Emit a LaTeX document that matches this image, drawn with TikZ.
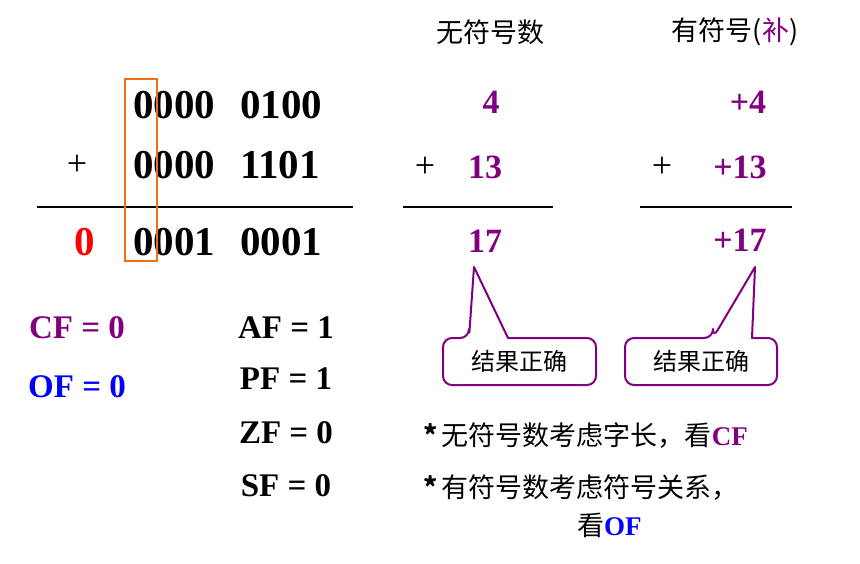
\documentclass[tikz,border=0pt]{standalone}
\usepackage{fontspec}
\setmainfont{Liberation Serif}
\newfontfamily\cjk{Noto Sans CJK SC}
\definecolor{pur}{RGB}{128,0,128}
\definecolor{org}{RGB}{240,110,20}
\begin{document}
\begin{tikzpicture}[x=1pt,y=-1pt,
  big/.style={font=\bfseries\fontsize{41}{41}\selectfont,inner sep=0},
  mid/.style={font=\bfseries\fontsize{34}{34}\selectfont,inner sep=0},
  flag/.style={font=\bfseries\fontsize{33}{33}\selectfont,inner sep=0},
  pl/.style={font=\fontsize{36}{36}\selectfont,inner sep=0},
  zh/.style={font=\cjk\fontsize{27}{27}\selectfont,inner sep=0},
  callout/.style={draw=pur,line width=2pt,fill=white,line join=round}]
\useasboundingbox (0,0) rectangle (860,563);
% headers
\node[zh] (h1) at (490,32) {无符号数};
\node[zh] (h2) at (735,32) {有符号(\textcolor{pur}{补})};
% binary
\node[big,anchor=west] (r1a) at (133,105) {0000};
\node[big,anchor=west] (r1b) at (240,105) {0100};
\node[pl] (p1) at (77,165) {+};
\node[big,anchor=west] (r2a) at (133,165) {0000};
\node[big,anchor=west] (r2b) at (240,165) {1101};
\coordinate (l1a) at (37,207); \coordinate (l1b) at (353,207);
\draw[line width=2pt] (l1a) -- (l1b);
\node[big,red] (c0) at (85,242) {0};
\node[big,anchor=west] (r3a) at (133,242) {0001};
\node[big,anchor=west] (r3b) at (240,242) {0001};
\node[draw=org,line width=1.5pt,minimum width=32,minimum height=182,inner sep=0] (box) at (141,170) {};
% unsigned
\node[mid,pur] (u1) at (491,102) {4};
\node[pl] (up) at (425,167) {+};
\node[mid,pur] (u2) at (485,167) {13};
\coordinate (l2a) at (403,207); \coordinate (l2b) at (553,207);
\draw[line width=2pt] (l2a) -- (l2b);
\node[mid,pur] (u3) at (485,241) {17};
% signed
\node[mid,pur] (s1) at (748,102) {+4};
\node[pl] (sp) at (662,167) {+};
\node[mid,pur] (s2) at (740,167) {+13};
\coordinate (l3a) at (640,207); \coordinate (l3b) at (792,207);
\draw[line width=2pt] (l3a) -- (l3b);
\node[mid,pur] (s3) at (740,240) {+17};
% callouts
\draw[callout] (469,338) -- (474,267) -- (508,338) [rounded corners=9pt] -- (596,338) -- (596,385) -- (443,385) -- (443,338) -- (469,338) -- cycle;
\node[zh,font=\cjk\fontsize{24}{24}\selectfont] (t1) at (519,361) {结果正确};
\draw[callout] (713,338) -- (755,267) -- (752,338) [rounded corners=9pt] -- (777,338) -- (777,385) -- (625,385) -- (625,338) -- (713,338) -- cycle;
\node[zh,font=\cjk\fontsize{24}{24}\selectfont] (t2) at (701,361) {结果正确};
% flags
\node[flag,pur] (cf) at (77,328) {CF = 0};
\node[flag,blue] (of) at (77,387) {OF = 0};
\node[flag] (af) at (286,328) {AF = 1};
\node[flag] (pf) at (286,379) {PF = 1};
\node[flag] (zf) at (286,433) {ZF = 0};
\node[flag] (sf) at (286,486) {SF = 0};
% notes
\node[zh,anchor=west] (n1) at (423,436) {\textbf{*}\,无符号数考虑字长，看\textcolor{pur}{\bfseries\rmfamily CF}};
\node[zh,anchor=west] (n2) at (423,488) {\textbf{*}\,有符号数考虑符号关系，};
\node[zh,anchor=west] (n3) at (577,525) {看\textcolor{blue}{\bfseries\rmfamily OF}};
\end{tikzpicture}
\end{document}
